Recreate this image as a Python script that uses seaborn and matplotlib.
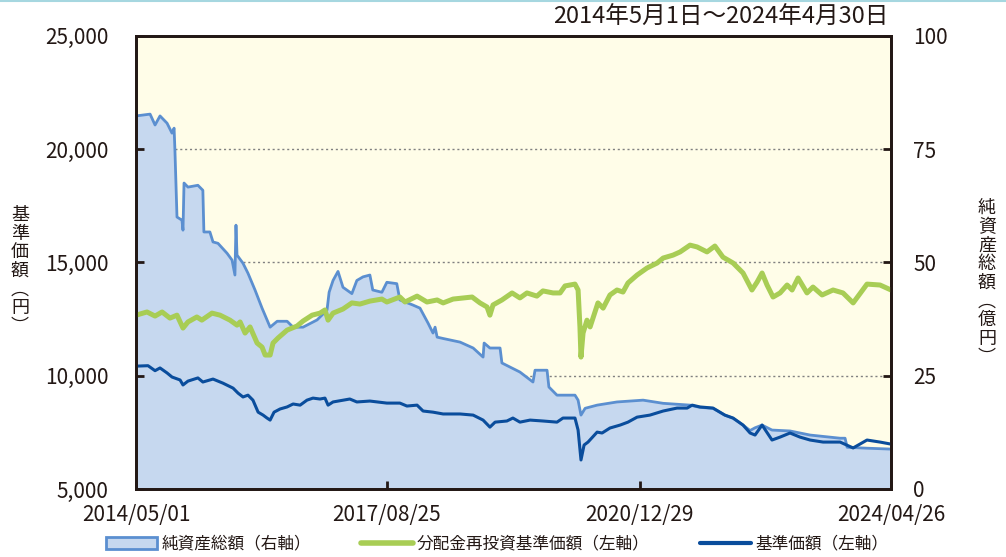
import pandas as pd
import matplotlib
matplotlib.use('Agg')
import matplotlib.pyplot as plt
from matplotlib.patches import Patch
from matplotlib.lines import Line2D
import seaborn as sns

sns.set_theme(style='white')
plt.rcParams['font.family'] = ['Noto Sans CJK JP', 'DejaVu Sans']

# 純資産総額 (右軸, 億円)
asset_dates = ['2014-05-01', '2014-07-08', '2014-08-01', '2014-08-25', '2014-09-28', '2014-10-22',
               '2014-11-01', '2014-11-05', '2014-11-15', '2014-12-09', '2014-12-14', '2014-12-19',
               '2015-01-07', '2015-02-24', '2015-03-20', '2015-03-25', '2015-04-23', '2015-05-08',
               '2015-06-01', '2015-07-15', '2015-08-08', '2015-08-22', '2015-08-27', '2015-09-01',
               '2015-09-30', '2015-10-24', '2015-11-27', '2015-12-31', '2016-02-08', '2016-03-13',
               '2016-04-30', '2016-05-29', '2016-07-16', '2016-09-22', '2016-11-09', '2016-11-19',
               '2016-12-08', '2017-01-01', '2017-01-25', '2017-03-09', '2017-04-02', '2017-05-02',
               '2017-06-04', '2017-06-18', '2017-08-01', '2017-08-25', '2017-10-12', '2017-10-27',
               '2017-12-28', '2018-02-01', '2018-03-12', '2018-04-05', '2018-04-15', '2018-04-25',
               '2018-05-24', '2018-08-14', '2018-10-16', '2018-12-03', '2018-12-08', '2019-01-05',
               '2019-02-23', '2019-03-04', '2019-04-12', '2019-05-30', '2019-08-01', '2019-08-11',
               '2019-10-08', '2019-10-17', '2019-11-25', '2020-02-20', '2020-03-06', '2020-03-20',
               '2020-04-09', '2020-06-06', '2020-09-10', '2021-01-14', '2021-04-21', '2021-08-29',
               '2021-10-16', '2021-12-18', '2022-02-13', '2022-03-25', '2022-05-12', '2022-06-15',
               '2022-07-09', '2022-08-12', '2022-09-29', '2022-12-25', '2023-04-01', '2023-08-24',
               '2023-09-17', '2023-09-27', '2024-01-01', '2024-04-26']
asset_vals = [82.3, 82.7, 80.3, 82.3, 80.7, 78.5,
              79.6, 74.8, 60.0, 59.3, 57.1, 67.5,
              66.6, 67.0, 65.9, 56.7, 56.7, 54.5,
              54.2, 52.0, 50.5, 47.2, 58.2, 51.6,
              49.8, 47.6, 43.9, 39.9, 35.7, 37.0,
              37.0, 35.7, 35.7, 37.3, 39.5, 43.4,
              46.0, 48.0, 44.5, 43.1, 46.0, 46.8,
              47.2, 43.9, 43.4, 45.6, 45.3, 41.7,
              40.6, 39.9, 36.6, 34.4, 35.7, 33.5,
              33.2, 32.4, 31.1, 29.1, 32.2, 31.1,
              31.1, 27.8, 26.9, 25.8, 23.6, 26.2,
              26.2, 22.5, 20.7, 20.7, 19.6, 16.3,
              17.8, 18.5, 19.2, 19.6, 18.9, 18.5,
              18.0, 17.8, 16.3, 15.6, 14.1, 12.9,
              13.5, 14.1, 13.0, 12.8, 11.9, 11.2,
              11.2, 9.2, 9.0, 8.8]

# 基準価額 (左軸, 円)
nav_dates = ['2014-05-01', '2014-06-28', '2014-08-01', '2014-08-25', '2014-09-28', '2014-10-22',
             '2014-11-30', '2014-12-14', '2015-01-07', '2015-02-24', '2015-03-20', '2015-05-08',
             '2015-06-25', '2015-08-13', '2015-09-06', '2015-09-30', '2015-10-24', '2015-11-17',
             '2015-12-12', '2016-01-05', '2016-01-24', '2016-02-08', '2016-02-27', '2016-03-27',
             '2016-04-30', '2016-05-29', '2016-07-02', '2016-08-04', '2016-09-02', '2016-10-06',
             '2016-10-30', '2016-11-14', '2016-12-08', '2017-02-27', '2017-04-02', '2017-06-04',
             '2017-08-25', '2017-10-27', '2017-11-30', '2018-01-18', '2018-02-16', '2018-04-05',
             '2018-05-24', '2018-08-14', '2018-10-16', '2018-12-03', '2019-01-05', '2019-01-30',
             '2019-03-28', '2019-04-26', '2019-05-30', '2019-07-18', '2019-09-18', '2019-11-25',
             '2019-12-24', '2020-02-20', '2020-03-06', '2020-03-20', '2020-04-04', '2020-04-23',
             '2020-06-06', '2020-06-30', '2020-08-07', '2020-09-25', '2020-11-02', '2020-12-16',
             '2021-02-16', '2021-04-21', '2021-06-27', '2021-08-15', '2021-09-08', '2021-10-16',
             '2021-12-18', '2022-02-13', '2022-03-25', '2022-05-12', '2022-06-15', '2022-07-09',
             '2022-08-12', '2022-09-29', '2022-11-07', '2022-12-25', '2023-02-11', '2023-04-01',
             '2023-06-03', '2023-08-24', '2023-10-26', '2024-01-01', '2024-03-04', '2024-04-26']
nav_vals = [10420, 10440, 10220, 10340, 10120, 9940,
            9810, 9590, 9760, 9900, 9720, 9850,
            9670, 9450, 9230, 9060, 9140, 8920,
            8390, 8260, 8130, 8040, 8390, 8530,
            8620, 8750, 8700, 8920, 9010, 8970,
            9010, 8700, 8840, 8970, 8840, 8880,
            8790, 8790, 8660, 8700, 8440, 8390,
            8310, 8310, 8260, 8040, 7730, 7950,
            8000, 8130, 7950, 8040, 8000, 7950,
            8130, 8130, 7600, 6280, 6940, 7070,
            7510, 7470, 7690, 7820, 7950, 8170,
            8260, 8440, 8570, 8570, 8700, 8620,
            8570, 8260, 8130, 7820, 7470, 7380,
            7820, 7160, 7290, 7470, 7290, 7160,
            7070, 7070, 6810, 7160, 7070, 6980]

# 分配金再投資基準価額 (左軸, 円)
reinv_dates = ['2014-05-01', '2014-06-23', '2014-08-01', '2014-09-04', '2014-10-12', '2014-11-15',
               '2014-12-14', '2015-01-07', '2015-02-19', '2015-03-15', '2015-05-03', '2015-06-11',
               '2015-07-29', '2015-09-01', '2015-09-16', '2015-10-10', '2015-11-03', '2015-12-07',
               '2015-12-31', '2016-01-15', '2016-02-08', '2016-02-22', '2016-03-17', '2016-04-30',
               '2016-06-17', '2016-07-16', '2016-08-29', '2016-10-06', '2016-10-30', '2016-11-14',
               '2016-12-08', '2017-01-25', '2017-03-09', '2017-04-17', '2017-06-04', '2017-08-01',
               '2017-08-25', '2017-10-27', '2017-11-21', '2018-01-18', '2018-03-07', '2018-04-25',
               '2018-05-24', '2018-07-11', '2018-10-11', '2018-11-18', '2018-12-22', '2019-01-05',
               '2019-01-20', '2019-03-04', '2019-04-22', '2019-05-30', '2019-07-03', '2019-08-20',
               '2019-09-18', '2019-11-06', '2019-12-10', '2020-01-03', '2020-02-20', '2020-03-06',
               '2020-03-15', '2020-03-20', '2020-03-30', '2020-04-18', '2020-05-03', '2020-06-10',
               '2020-07-05', '2020-08-07', '2020-09-10', '2020-10-09', '2020-11-02', '2020-12-16',
               '2021-02-02', '2021-03-23', '2021-04-21', '2021-06-08', '2021-07-12', '2021-08-29',
               '2021-10-02', '2021-11-19', '2021-12-27', '2022-02-04', '2022-03-25', '2022-05-12',
               '2022-06-24', '2022-07-19', '2022-08-12', '2022-09-05', '2022-10-04', '2022-11-07',
               '2022-12-11', '2023-01-04', '2023-02-02', '2023-03-17', '2023-04-15', '2023-05-29',
               '2023-07-21', '2023-09-07', '2023-10-26', '2024-01-01', '2024-03-04', '2024-04-26']
reinv_vals = [12670, 12810, 12630, 12810, 12540, 12670,
              12100, 12370, 12590, 12450, 12760, 12670,
              12450, 12230, 12370, 11880, 12150, 11440,
              11260, 10910, 10910, 11440, 11660, 12010,
              12190, 12410, 12670, 12760, 12900, 12450,
              12760, 12940, 13210, 13160, 13290, 13380,
              13250, 13470, 13250, 13510, 13250, 13340,
              13210, 13380, 13470, 13210, 13030, 12670,
              13120, 13340, 13650, 13430, 13650, 13510,
              13740, 13650, 13650, 13960, 14040, 13780,
              12150, 10820, 11880, 12450, 12150, 13210,
              12980, 13560, 13780, 13690, 14090, 14440,
              14750, 14970, 15190, 15320, 15460, 15760,
              15680, 15460, 15720, 15230, 14970, 14530,
              13780, 14130, 14530, 14000, 13470, 13650,
              14000, 13780, 14310, 13650, 13910, 13560,
              13780, 13650, 13210, 14040, 14000, 13780]

xtick_dates = ['2014-05-01', '2017-08-25', '2020-12-29', '2024-04-26']
xtick_labels = ['2014/05/01', '2017/08/25', '2020/12/29', '2024/04/26']
left_ticks = [5000, 10000, 15000, 20000, 25000]
right_ticks = [0, 25, 50, 75, 100]

df_asset = pd.DataFrame({'date': pd.to_datetime(asset_dates), 'value': asset_vals})
df_nav = pd.DataFrame({'date': pd.to_datetime(nav_dates), 'value': nav_vals})
df_reinv = pd.DataFrame({'date': pd.to_datetime(reinv_dates), 'value': reinv_vals})

bg = '#FFFDE8'
fill_c = '#C6D8EF'
edge_c = '#5B8FD0'
green = '#A8CD55'
navy = '#0A4D9C'
dark = '#231815'

fig = plt.figure(figsize=(10.06, 5.57), dpi=100)
ax = fig.add_axes([0.1352, 0.1221, 0.7505, 0.8138])
ax2 = ax.twinx()
ax.set_zorder(ax2.get_zorder() + 1)
ax.patch.set_visible(False)
ax2.patch.set_visible(True)
ax2.patch.set_facecolor(bg)

# net assets area on right axis
ax2.fill_between(df_asset['date'], df_asset['value'], 0, color=fill_c, linewidth=0, zorder=1)
sns.lineplot(data=df_asset, x='date', y='value', ax=ax2, color=edge_c, linewidth=2.0, zorder=2)
ax2.set_axisbelow(True)
ax2.yaxis.grid(True, color='#808080', linestyle=(0, (1.5, 2)), linewidth=1.0)

# lines on left axis
sns.lineplot(data=df_reinv, x='date', y='value', ax=ax, color=green, linewidth=3.6)
sns.lineplot(data=df_nav, x='date', y='value', ax=ax, color=navy, linewidth=2.2)

ax.set_xlim(pd.Timestamp(xtick_dates[0]), pd.Timestamp(xtick_dates[-1]))
ax.set_ylim(5000, 25000)
ax2.set_ylim(0, 100)
ax.set_yticks(left_ticks)
ax.set_yticklabels([f'{v:,}' for v in left_ticks])
ax2.set_yticks(right_ticks)
ax2.set_yticklabels([str(v) for v in right_ticks])
ax.set_xticks(pd.to_datetime(xtick_dates))
ax.set_xticklabels(xtick_labels)
ax.set_xlabel('')
ax.set_ylabel('')
ax2.set_ylabel('')

ax.tick_params(axis='y', direction='in', length=6, width=2, color=dark, labelsize=15,
               labelcolor=dark, pad=20, left=True)
ax.tick_params(axis='x', direction='in', length=6, width=2, color=dark, labelsize=15,
               labelcolor=dark, pad=11, bottom=True)
ax2.tick_params(axis='y', direction='in', length=6, width=2, color=dark, labelsize=15,
                labelcolor=dark, pad=16, right=True)
for a in (ax, ax2):
    for s in a.spines.values():
        s.set_color(dark)
        s.set_linewidth(2)

# vertical axis titles
fig.text(20 / 1006, 1 - 271 / 557, '\n'.join('基準価額︵円︶'), ha='center', va='center',
         fontsize=13, linespacing=1.05, color=dark)
fig.text(987 / 1006, 1 - 283 / 557, '\n'.join('純資産総額︵億円︶'), ha='center', va='center',
         fontsize=13, linespacing=1.05, color=dark)

fig.text(888 / 1006, 1 - 17 / 557, '2014年5月1日～2024年4月30日', ha='right', va='center',
         fontsize=17, color=dark)

handles = [Patch(facecolor=fill_c, edgecolor=edge_c, linewidth=2),
           Line2D([], [], color=green, linewidth=4),
           Line2D([], [], color=navy, linewidth=3)]
labels = ['純資産総額（右軸）', '分配金再投資基準価額（左軸）', '基準価額（左軸）']
fig.legend(handles, labels, loc='center', bbox_to_anchor=(497 / 1006, 1 - 544 / 557), ncol=3,
           frameon=False, fontsize=12, handlelength=3.1, handleheight=0.75,
           handletextpad=0.25, columnspacing=3.0, labelcolor=dark)

fig.add_artist(Line2D([0, 1], [0.998, 0.998], transform=fig.transFigure, color='#A6D7E0', lw=1.5))

fig.savefig('out.png', dpi=100)
